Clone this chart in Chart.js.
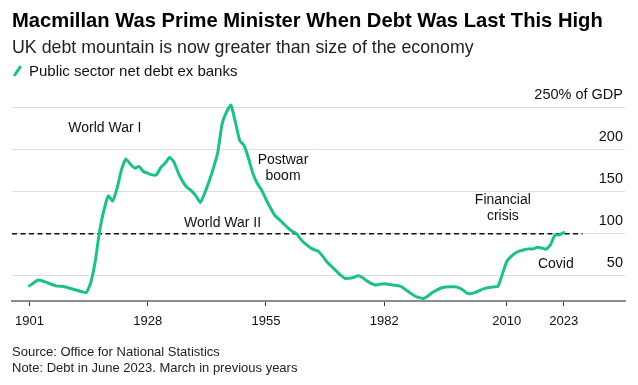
<!DOCTYPE html>
<html>
<head>
<meta charset="utf-8">
<script src="https://cdn.jsdelivr.net/npm/chart.js@4"></script>
<style>
    body { margin: 0; background: #fff; }
    #wrap { position: relative; width: 638px; height: 385px; font-family: "Liberation Sans", Arial, sans-serif; color: #111; }
    #wrap canvas { position: absolute; left: 0; top: 0; }
    .txt { position: absolute; left: 12px; white-space: nowrap; }
    .title { top: 8px; font-size: 20.2px; line-height: 24px; font-weight: bold; color: #000; }
    .subtitle { top: 37px; font-size: 17.8px; line-height: 21px; color: #222; }
    .legend { top: 62px; font-size: 15px; line-height: 18px; }
    .legend i { display: inline-block; width: 3px; height: 12px; background: #1dbf8a; transform: rotate(35deg); margin: 0 10px 0 4px; vertical-align: -1px; border-radius: 1px; }
    .foot { font-size: 13px; line-height: 16px; color: #222; }
</style>
</head>
<body>
<div id="wrap">
    <canvas id="debtChart" width="638" height="385"></canvas>
    <div class="txt title">Macmillan Was Prime Minister When Debt Was Last This High</div>
    <div class="txt subtitle">UK debt mountain is now greater than size of the economy</div>
    <div class="txt legend"><i></i>Public sector net debt ex banks</div>
    <div class="txt foot" style="top:344px">Source: Office for National Statistics</div>
    <div class="txt foot" style="top:360px">Note: Debt in June 2023. March in previous years</div>
</div>
<script>
// años y deuda neta (% del PIB)
const years = [
    1901, 1903, 1905, 1907, 1909, 1911, 1913, 1914, 1915, 1916,
    1917, 1918, 1919, 1920, 1921, 1922, 1923, 1924, 1925, 1926,
    1927, 1928, 1929, 1930, 1931, 1932, 1933, 1934, 1935, 1936,
    1937, 1938, 1939, 1940, 1941, 1942, 1943, 1944, 1945, 1946,
    1947, 1948, 1949, 1950, 1951, 1952, 1953, 1954, 1955, 1956,
    1957, 1958, 1959, 1960, 1961, 1962, 1963, 1964, 1965, 1966,
    1967, 1968, 1969, 1970, 1971, 1972, 1973, 1974, 1975, 1976,
    1977, 1978, 1979, 1980, 1981, 1982, 1983, 1984, 1985, 1986,
    1987, 1988, 1989, 1990, 1991, 1992, 1993, 1994, 1995, 1996,
    1997, 1998, 1999, 2000, 2001, 2002, 2003, 2004, 2005, 2006,
    2007, 2008, 2009, 2010, 2011, 2012, 2013, 2014, 2015, 2016,
    2017, 2018, 2019, 2020, 2021, 2022, 2023
];
const debt = [
    38, 45, 42, 38, 37, 34, 31, 30, 42, 67,
    103, 128, 145, 139, 154, 176, 189, 183, 178, 180,
    174, 172, 170, 170, 179, 184, 191, 185, 172, 162,
    155, 151, 145, 137, 148, 162, 178, 197, 231, 245,
    253, 233, 211, 205, 190, 172, 160, 152, 141, 131,
    122, 117, 112, 107, 103, 100, 93, 88, 84, 81,
    79, 73, 66, 61, 56, 51, 47, 47, 48, 50,
    48, 44, 41, 39, 40, 40.5, 40, 39, 38.5, 37,
    33, 29.5, 26, 24, 23, 26, 30, 33, 35.5, 36.6,
    37, 37, 36, 33, 29, 29, 30.5, 33, 35, 36,
    36.8, 37.5, 52, 67, 73, 77, 79.5, 81, 82, 82,
    84, 83, 81.6, 87, 98.5, 98.6, 101.5
];
const xTicks = [1901, 1928, 1955, 1982, 2010, 2023];
const yTicks = [50, 100, 150, 200, 250];

// notas sobre el gráfico (año, valor)
const notes = [
    { text: 'World War I', x: 1918.2, y: 225.4 },
    { text: 'World War II', x: 1945.1, y: 112.3 },
    { text: 'Postwar', x: 1958.9, y: 187.4 },
    { text: 'boom', x: 1958.9, y: 168.4 },
    { text: 'Financial', x: 2009.1, y: 139.9 },
    { text: 'crisis', x: 2009.1, y: 120.9 },
    { text: 'Covid', x: 2021.2, y: 63.9 }
];

const green = '#1dbf8a';

const notesPlugin = {
    id: 'notes',
    beforeDatasetsDraw(chart) {
        const { ctx, scales: { x, y } } = chart;
        ctx.save();
        ctx.strokeStyle = '#111';
        ctx.lineWidth = 1.5;
        ctx.setLineDash([5, 3.5]);
        ctx.beginPath();
        ctx.moveTo(x.left, y.getPixelForValue(100));
        ctx.lineTo(x.getPixelForValue(2027.3), y.getPixelForValue(100));
        ctx.stroke();
        ctx.restore();
    },
    afterDatasetsDraw(chart) {
        const { ctx, scales: { x, y } } = chart;
        ctx.save();
        ctx.font = '14px "Liberation Sans", Arial, sans-serif';
        ctx.fillStyle = '#111';
        ctx.textAlign = 'center';
        ctx.textBaseline = 'middle';
        notes.forEach(n => {
            ctx.fillText(n.text, x.getPixelForValue(n.x), y.getPixelForValue(n.y));
        });
        ctx.restore();
    }
};

const ctx = document.getElementById('debtChart').getContext('2d');
new Chart(ctx, {
    type: 'line',
    data: {
        datasets: [{
            label: 'Public sector net debt ex banks',
            data: years.map((yr, i) => ({ x: yr, y: debt[i] })),
            borderColor: green,
            borderWidth: 3,
            pointRadius: 0,
            tension: 0.15,
            borderJoinStyle: 'round',
            borderCapStyle: 'round'
        }]
    },
    options: {
        responsive: false,
        animation: false,
        devicePixelRatio: 1,
        layout: { padding: { left: 12, right: 13, top: 95, bottom: 54 } },
        plugins: {
            legend: { display: false },
            tooltip: { enabled: false }
        },
        scales: {
            x: {
                type: 'linear',
                min: 1897,
                max: 2037,
                afterBuildTicks: scale => { scale.ticks = xTicks.map(v => ({ value: v })); },
                afterFit: scale => { scale.height = 30; },
                grid: { drawOnChartArea: false, drawTicks: true, tickLength: 5, color: '#333', lineWidth: 1 },
                border: { display: true, color: '#8c8c8c', width: 2 },
                ticks: {
                    callback: v => String(v),
                    color: '#111',
                    padding: 8,
                    maxRotation: 0,
                    font: { family: '"Liberation Sans", Arial, sans-serif', size: 13 }
                }
            },
            y: {
                position: 'right',
                min: 20,
                max: 265,
                afterBuildTicks: scale => { scale.ticks = yTicks.map(v => ({ value: v })); },
                afterFit: scale => { scale.width = 0; },
                grid: { color: '#dedede', lineWidth: 1, drawTicks: false },
                border: { display: false },
                ticks: {
                    mirror: true,
                    padding: -2,
                    labelOffset: -12.5,
                    color: '#111',
                    font: { family: '"Liberation Sans", Arial, sans-serif', size: 14.5 },
                    callback: v => v === 250 ? '250% of GDP' : String(v)
                }
            }
        }
    },
    plugins: [notesPlugin]
});
</script>
</body>
</html>
